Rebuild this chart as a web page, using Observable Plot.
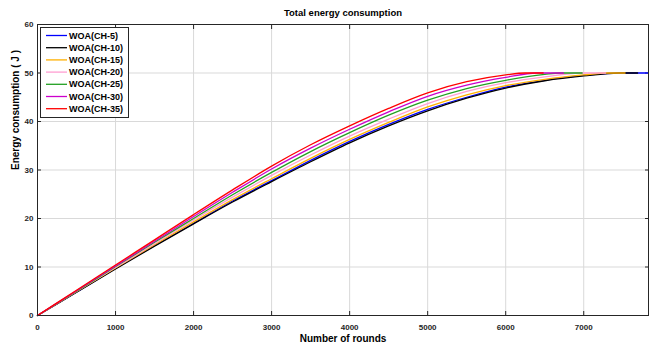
<!DOCTYPE html>
<html>
<head>
<meta charset="utf-8">
<script src="https://cdn.jsdelivr.net/npm/d3@7"></script>
<script src="https://cdn.jsdelivr.net/npm/@observablehq/plot@0.6"></script>
<style>
  html, body { margin: 0; padding: 0; background: #fff; }
  #chart { width: 649px; height: 347px; }
  svg { font-family: "Liberation Sans", Arial, sans-serif; }
</style>
</head>
<body>
<div id="chart"></div>
<script>
const seriesNames = ["WOA(CH-5)", "WOA(CH-10)", "WOA(CH-15)", "WOA(CH-20)", "WOA(CH-25)", "WOA(CH-30)", "WOA(CH-35)"];
const seriesColors = ["#0000ff", "#000000", "#ffb000", "#ff9ed2", "#22a022", "#cc00cc", "#ff0000"];

const roundsCH5  = [0, 500, 1000, 1500, 2000, 2500, 3000, 3500, 4000, 4500, 5000, 5500, 6000, 6500, 7000, 7450, 7830];
const energyCH5  = [0, 4.8, 9.7, 14.4, 19.0, 23.6, 27.8, 32.0, 35.9, 39.4, 42.5, 45.0, 47.1, 48.5, 49.5, 50, 50];
const roundsCH10 = [0, 500, 1000, 1500, 2000, 2500, 3000, 3500, 4000, 4500, 5000, 5500, 6000, 6500, 7000, 7450, 7690];
const energyCH10 = [0, 4.8, 9.6, 14.3, 18.9, 23.4, 27.6, 31.7, 35.6, 39.1, 42.2, 44.8, 46.9, 48.4, 49.4, 50, 50];
const roundsCH15 = [0, 500, 1000, 1500, 2000, 2500, 3000, 3500, 4000, 4500, 5000, 5500, 6000, 6500, 7000, 7300, 7530];
const energyCH15 = [0, 4.9, 9.8, 14.6, 19.3, 23.9, 28.2, 32.4, 36.3, 39.8, 43.0, 45.5, 47.4, 48.7, 49.6, 50, 50];
const roundsCH20 = [0, 500, 1000, 1500, 2000, 2500, 3000, 3500, 4000, 4500, 5000, 5500, 6000, 6500, 6950, 7280];
const energyCH20 = [0, 5.0, 9.9, 14.8, 19.7, 24.4, 28.9, 33.1, 37.0, 40.5, 43.7, 46.2, 48.0, 49.2, 50, 50];
const roundsCH25 = [0, 500, 1000, 1500, 2000, 2500, 3000, 3500, 4000, 4500, 5000, 5500, 6000, 6500, 6700, 6980];
const energyCH25 = [0, 5.0, 10.1, 15.1, 20.0, 24.9, 29.5, 33.8, 37.7, 41.3, 44.4, 46.8, 48.5, 49.7, 50, 50];
const roundsCH30 = [0, 500, 1000, 1500, 2000, 2500, 3000, 3500, 4000, 4500, 5000, 5500, 6000, 6400, 6740];
const energyCH30 = [0, 5.1, 10.2, 15.3, 20.4, 25.4, 30.2, 34.5, 38.4, 42.0, 45.2, 47.5, 49.1, 50, 50];
const roundsCH35 = [0, 500, 1000, 1500, 2000, 2500, 3000, 3500, 4000, 4500, 5000, 5500, 6000, 6250, 6480];
const energyCH35 = [0, 5.2, 10.4, 15.6, 20.8, 25.9, 30.8, 35.2, 39.1, 42.7, 45.9, 48.2, 49.6, 50, 50];

const xTicks = [0, 1000, 2000, 3000, 4000, 5000, 6000, 7000];
const yTicks = [0, 10, 20, 30, 40, 50, 60];

const roundsList = [roundsCH5, roundsCH10, roundsCH15, roundsCH20, roundsCH25, roundsCH30, roundsCH35];
const energyList = [energyCH5, energyCH10, energyCH15, energyCH20, energyCH25, energyCH30, energyCH35];

const data = [];
seriesNames.forEach((name, i) => {
  roundsList[i].forEach((r, j) => data.push({series: name, round: r, energy: energyList[i][j]}));
});

const lineMarks = seriesNames.map((name, i) =>
  Plot.line(data.filter(d => d.series === name), {
    x: "round", y: "energy", stroke: seriesColors[i], strokeWidth: 1.3, curve: "monotone-x"
  })
);

function legendMark(index, scales, values, dims) {
  const g = d3.create("svg:g");
  const x0 = dims.marginLeft + 3, y0 = dims.marginTop + 3;
  g.append("rect").attr("x", x0 + 0.5).attr("y", y0 + 0.5).attr("width", 88).attr("height", 90)
    .attr("fill", "#fff").attr("stroke", "#262626").attr("stroke-width", 1);
  seriesNames.forEach((name, i) => {
    const yy = y0 + 8.5 + i * 12.2;
    g.append("line").attr("x1", x0 + 6).attr("x2", x0 + 27).attr("y1", yy).attr("y2", yy)
      .attr("stroke", seriesColors[i]).attr("stroke-width", 1.3);
    g.append("text").attr("x", x0 + 29).attr("y", yy).attr("dy", "0.35em")
      .attr("text-anchor", "start")
      .attr("font-size", 9).attr("font-weight", "bold").attr("fill", "#000").text(name);
  });
  return g.node();
}

const chart = Plot.plot({
  width: 649,
  height: 347,
  marginLeft: 37,
  marginRight: 1,
  marginTop: 24,
  marginBottom: 32,
  style: {fontFamily: "Liberation Sans, Arial, sans-serif", background: "#fff"},
  x: {domain: [0, 7830]},
  y: {domain: [0, 60]},
  marks: [
    Plot.gridX(xTicks, {stroke: "#d9d9d9", strokeOpacity: 1}),
    Plot.gridY(yTicks, {stroke: "#d9d9d9", strokeOpacity: 1}),
    Plot.axisX(xTicks, {anchor: "bottom", tickSize: -4, tickPadding: 13, tickFormat: d3.format("d"), label: null, fontSize: 8, fontWeight: "bold", stroke: "#262626", fill: "#262626"}),
    Plot.axisX(xTicks, {anchor: "top", tickSize: -4, tickFormat: () => "", label: null, stroke: "#262626"}),
    Plot.axisY(yTicks, {anchor: "left", tickSize: -4, tickPadding: 8, label: null, fontSize: 8, fontWeight: "bold", stroke: "#262626", fill: "#262626"}),
    Plot.axisY(yTicks, {anchor: "right", tickSize: -4, tickFormat: () => "", label: null, stroke: "#262626"}),
    ...lineMarks,
    Plot.frame({stroke: "#262626"}),
    legendMark,
    Plot.text(["Total energy consumption"], {frameAnchor: "top", lineAnchor: "middle", dy: -12, fontSize: 9.5, fontWeight: "bold", fill: "#000"}),
    Plot.text(["Number of rounds"], {frameAnchor: "bottom", lineAnchor: "middle", dy: 23, fontSize: 10, fontWeight: "bold", fill: "#000"}),
    Plot.text(["Energy consumption ( J )"], {frameAnchor: "left", lineAnchor: "middle", dx: -22, rotate: -90, fontSize: 10, fontWeight: "bold", fill: "#000"})
  ]
});
document.getElementById("chart").appendChild(chart);
</script>
</body>
</html>
